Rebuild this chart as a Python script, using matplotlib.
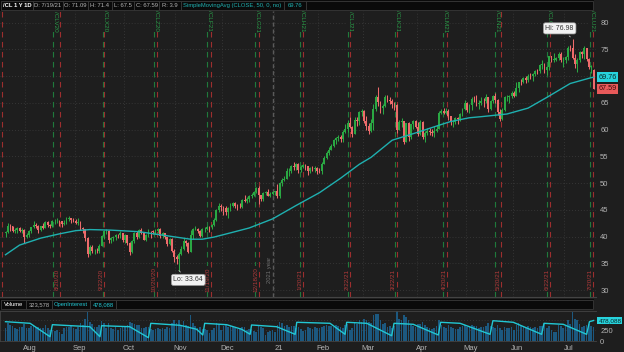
import matplotlib
matplotlib.use('Agg')
import matplotlib.pyplot as plt
from matplotlib.patches import Rectangle
import numpy as np

# /CL 1 Y 1D  -- daily bars 7/20/20 .. 7/19/21 (one row per month)
opens = [
    40.59, 40.81, 41.96, 41.90, 41.07, 41.29, 41.60, 41.04, 41.27, 39.92,
    40.27, 41.01, 41.70, 42.19, 41.95, 41.22, 41.94, 41.61, 42.67, 42.24, 42.01, 42.89, 42.89, 42.93, 42.82, 42.34, 42.62, 43.35, 43.39, 43.04, 42.97,
    42.61, 42.76, 41.51, 41.37, 39.77, 36.76, 38.05, 37.30, 37.33, 37.26, 38.28, 40.16, 40.97, 41.11, 39.31, 39.80, 39.93, 40.31, 40.25, 40.60, 39.29,
    40.22, 38.72, 37.05, 39.22, 40.67, 39.95, 41.19, 40.60, 39.43, 40.20, 41.04, 40.96, 40.88, 41.06, 41.46, 40.03, 40.64, 39.85, 38.56, 39.57, 37.39, 36.17,
    35.79, 36.81, 37.66, 39.15, 38.79, 37.14, 40.29, 41.36, 41.45, 41.12, 40.13, 41.34, 41.43, 41.82, 41.74, 42.15, 43.06, 44.91, 45.71, 45.53,
    45.34, 44.55, 45.28, 45.64, 46.26, 45.76, 45.60, 45.52, 46.78, 46.57, 46.99, 47.62, 47.82, 48.36, 49.10, 47.74, 47.02, 48.12, 48.23, 47.62, 48.00, 48.40,
    48.52, 47.62, 49.93, 50.63, 50.83, 52.24, 52.25, 53.21, 52.91, 53.57, 52.36, 52.98, 53.31, 53.13, 52.27, 52.77, 52.61, 52.85, 52.34,
    52.20, 53.55, 54.76, 55.69, 56.23, 56.85, 57.97, 58.36, 58.68, 58.24, 59.47, 60.05, 61.14, 60.52, 59.24, 61.70, 61.67, 63.22, 63.53,
    61.50, 60.64, 59.75, 61.28, 63.83, 66.09, 65.05, 64.01, 64.44, 66.02, 65.61, 65.39, 64.80, 64.60, 60.00, 61.42, 61.55, 57.76, 61.18, 58.56, 60.97, 61.56, 60.55,
    59.16, 61.45, 58.65, 59.33, 59.77, 59.60, 59.32, 59.70, 60.18, 63.15, 63.46, 63.13, 63.38, 62.44, 61.35, 61.43, 62.14, 61.91, 62.94, 63.86, 65.01,
    63.58, 64.49, 65.69, 65.63, 64.71, 64.90, 65.32, 65.28, 66.08, 63.82, 65.37, 66.27, 65.49, 63.36, 62.05, 63.58, 66.05, 66.07, 66.21, 66.85,
    66.32, 67.72, 68.83, 68.81, 69.62, 69.23, 70.05, 69.96, 70.29, 70.91, 70.88, 72.12, 72.15, 71.04, 71.64, 73.66, 73.06, 73.08, 73.30, 74.05, 72.91, 72.98,
    73.47, 75.23, 75.16, 73.37, 72.20, 72.94, 74.56, 74.10, 75.25, 73.13, 71.65, 71.09,
]
highs = [
    40.97, 42.51, 42.29, 42.05, 41.60, 41.81, 41.78, 41.64, 41.45, 40.65,
    41.30, 41.83, 42.82, 42.60, 42.09, 42.03, 42.44, 42.94, 42.96, 42.30, 43.00, 43.22, 43.46, 43.12, 42.85, 43.04, 43.62, 43.78, 43.54, 43.50, 43.20,
    43.43, 42.83, 41.82, 41.44, 39.83, 38.50, 38.42, 37.71, 37.90, 38.68, 40.27, 41.19, 41.47, 41.15, 39.92, 40.14, 40.55, 40.51, 40.95, 40.73, 40.43,
    40.27, 39.02, 39.38, 40.78, 40.95, 41.39, 41.60, 40.81, 40.49, 41.37, 41.12, 41.22, 41.41, 41.64, 41.58, 40.92, 40.71, 39.96, 39.80, 39.67, 37.64, 36.48,
    37.07, 38.29, 39.77, 39.44, 38.95, 41.26, 41.61, 42.01, 41.66, 41.20, 41.57, 41.76, 42.05, 41.98, 42.40, 43.44, 45.20, 46.26, 46.11, 45.63,
    45.74, 45.47, 46.19, 46.54, 46.46, 46.08, 46.27, 47.05, 47.70, 47.42, 47.76, 48.18, 48.59, 49.28, 49.43, 47.84, 48.40, 48.58, 48.96, 48.38, 48.54, 48.58,
    49.83, 50.20, 50.94, 51.28, 52.75, 52.75, 53.42, 53.93, 53.77, 53.69, 53.29, 53.55, 53.48, 53.17, 53.03, 53.17, 53.19, 53.07, 52.88,
    53.87, 55.04, 55.95, 56.65, 57.29, 58.14, 58.62, 58.91, 58.90, 59.82, 60.95, 61.73, 62.26, 60.69, 62.27, 62.35, 63.40, 63.81, 63.68,
    62.47, 61.13, 61.99, 64.86, 66.40, 67.98, 65.40, 64.78, 66.40, 66.40, 66.12, 65.69, 65.08, 64.74, 61.78, 62.22, 61.58, 61.28, 61.35, 61.00, 61.69, 61.85, 61.40,
    61.75, 61.55, 59.65, 60.23, 60.30, 60.18, 60.63, 60.77, 63.46, 63.82, 63.93, 64.05, 63.87, 62.59, 61.77, 62.30, 62.27, 63.16, 64.02, 65.47, 65.11,
    64.75, 66.04, 66.34, 66.46, 65.45, 66.15, 65.80, 66.69, 66.17, 65.61, 66.48, 66.81, 65.66, 63.89, 64.09, 66.23, 66.38, 66.37, 67.23, 67.12,
    68.87, 68.92, 69.40, 69.76, 70.00, 70.37, 70.62, 70.48, 71.04, 71.29, 72.30, 72.99, 72.34, 71.92, 73.79, 73.81, 74.25, 73.58, 74.45, 74.42, 73.61, 73.73,
    75.70, 75.80, 76.98, 74.11, 73.31, 74.67, 74.76, 75.52, 75.25, 73.30, 72.04, 71.40,
]
lows = [
    39.92, 40.60, 41.07, 40.80, 40.73, 40.70, 40.80, 40.73, 38.72, 39.67,
    39.98, 40.60, 41.60, 41.66, 40.71, 41.03, 41.33, 41.53, 41.79, 41.62, 41.87, 42.38, 42.45, 42.04, 41.85, 42.18, 42.29, 42.88, 42.55, 42.80, 42.34,
    42.12, 41.14, 40.71, 39.16, 36.13, 36.60, 36.95, 36.82, 36.88, 36.93, 38.16, 39.60, 40.51, 38.76, 38.86, 39.08, 39.30, 39.80, 39.69, 38.99, 38.75,
    38.50, 36.63, 36.85, 38.74, 39.56, 39.80, 40.46, 39.26, 39.11, 39.88, 39.64, 40.51, 40.56, 40.64, 39.78, 39.81, 39.48, 38.16, 38.47, 37.02, 35.23, 34.92,
    33.64, 36.57, 37.40, 38.26, 36.99, 37.08, 39.54, 41.20, 40.68, 39.85, 39.97, 40.76, 41.24, 40.79, 41.38, 41.98, 42.89, 44.57, 44.81, 44.11,
    43.94, 43.52, 44.79, 45.55, 45.39, 45.01, 45.27, 45.38, 46.38, 46.20, 46.51, 47.27, 47.62, 48.05, 46.16, 46.70, 46.70, 47.81, 47.50, 47.37, 47.69, 47.76,
    47.18, 47.26, 49.48, 50.41, 50.81, 51.33, 51.87, 52.51, 52.47, 51.95, 52.02, 52.76, 52.50, 51.44, 51.89, 52.18, 52.15, 51.76, 51.84,
    51.71, 53.51, 54.52, 55.22, 56.17, 56.73, 57.35, 57.84, 57.65, 57.67, 59.35, 59.60, 60.33, 58.60, 59.13, 60.64, 60.79, 62.44, 61.16,
    59.92, 59.12, 59.56, 59.93, 63.55, 64.35, 63.14, 62.97, 64.23, 65.05, 64.70, 64.08, 63.70, 59.30, 59.91, 60.56, 57.32, 57.67, 57.94, 58.22, 60.10, 60.35, 58.86,
    59.00, 58.18, 57.63, 58.91, 58.92, 58.83, 58.68, 59.56, 60.10, 62.81, 62.86, 62.89, 61.86, 60.76, 60.50, 60.98, 61.06, 61.59, 62.55, 63.60, 63.26,
    63.05, 63.66, 65.14, 64.39, 63.90, 64.55, 64.13, 64.99, 63.22, 63.60, 64.88, 65.02, 62.78, 61.56, 61.83, 63.48, 65.26, 65.02, 65.96, 66.03,
    66.23, 67.05, 68.36, 68.65, 68.68, 68.80, 69.46, 69.16, 69.98, 70.40, 70.50, 71.24, 70.63, 70.13, 71.14, 72.58, 72.67, 72.72, 73.03, 72.64, 71.68, 72.50,
    72.94, 74.71, 73.12, 71.57, 70.76, 72.57, 73.40, 73.16, 72.79, 71.22, 70.64, 67.50,
]
closes = [
    40.81, 41.96, 41.90, 41.07, 41.29, 41.60, 41.04, 41.27, 39.92, 40.27,
    41.01, 41.70, 42.19, 41.95, 41.22, 41.94, 41.61, 42.67, 42.24, 42.01, 42.89, 42.89, 42.93, 42.82, 42.34, 42.62, 43.35, 43.39, 43.04, 42.97, 42.61,
    42.76, 41.51, 41.37, 39.77, 36.76, 38.05, 37.30, 37.33, 37.26, 38.28, 40.16, 40.97, 41.11, 39.31, 39.80, 39.93, 40.31, 40.25, 40.60, 39.29, 40.22,
    38.72, 37.05, 39.22, 40.67, 39.95, 41.19, 40.60, 39.43, 40.20, 41.04, 40.96, 40.88, 41.06, 41.46, 40.03, 40.64, 39.85, 38.56, 39.57, 37.39, 36.17, 35.79,
    36.81, 37.66, 39.15, 38.79, 37.14, 40.29, 41.36, 41.45, 41.12, 40.13, 41.34, 41.43, 41.82, 41.74, 42.15, 43.06, 44.91, 45.71, 45.53, 45.34,
    44.55, 45.28, 45.64, 46.26, 45.76, 45.60, 45.52, 46.78, 46.57, 46.99, 47.62, 47.82, 48.36, 49.10, 47.74, 47.02, 48.12, 48.23, 47.62, 48.00, 48.40, 48.52,
    47.62, 49.93, 50.63, 50.83, 52.24, 52.25, 53.21, 52.91, 53.57, 52.36, 52.98, 53.31, 53.13, 52.27, 52.77, 52.61, 52.85, 52.34, 52.20,
    53.55, 54.76, 55.69, 56.23, 56.85, 57.97, 58.36, 58.68, 58.24, 59.47, 60.05, 61.14, 60.52, 59.24, 61.70, 61.67, 63.22, 63.53, 61.50,
    60.64, 59.75, 61.28, 63.83, 66.09, 65.05, 64.01, 64.44, 66.02, 65.61, 65.39, 64.80, 64.60, 60.00, 61.42, 61.55, 57.76, 61.18, 58.56, 60.97, 61.56, 60.55, 59.16,
    61.45, 58.65, 59.33, 59.77, 59.60, 59.32, 59.70, 60.18, 63.15, 63.46, 63.13, 63.38, 62.44, 61.35, 61.43, 62.14, 61.91, 62.94, 63.86, 65.01, 63.58,
    64.49, 65.69, 65.63, 64.71, 64.90, 65.32, 65.28, 66.08, 63.82, 65.37, 66.27, 65.49, 63.36, 62.05, 63.58, 66.05, 66.07, 66.21, 66.85, 66.32,
    67.72, 68.83, 68.81, 69.62, 69.23, 70.05, 69.96, 70.29, 70.91, 70.88, 72.12, 72.15, 71.04, 71.64, 73.66, 73.06, 73.08, 73.30, 74.05, 72.91, 72.98, 73.47,
    75.23, 75.16, 73.37, 72.20, 72.94, 74.56, 74.10, 75.25, 73.13, 71.65, 71.81, 67.59,
]
# volume and open interest, thousands of contracts
volume_k = [
    310, 420, 380, 350, 300, 290, 330, 320, 390, 300,
    300, 340, 380, 330, 320, 300, 310, 380, 300, 260, 250, 240, 260, 210, 170, 300, 330, 320, 350, 300, 280,
    330, 420, 380, 520, 680, 450, 400, 330, 320, 380, 470, 430, 300, 420, 300, 280, 320, 260, 310, 350, 330,
    380, 450, 420, 400, 380, 370, 300, 310, 330, 330, 290, 250, 280, 300, 290, 300, 270, 330, 300, 420, 480, 430,
    500, 380, 460, 380, 360, 600, 430, 350, 310, 330, 280, 270, 250, 190, 250, 300, 410, 400, 250, 350,
    380, 330, 350, 320, 300, 280, 310, 330, 320, 260, 290, 270, 240, 220, 380, 320, 300, 150, 200, 240, 260, 200,
    380, 450, 430, 350, 380, 330, 350, 340, 300, 330, 290, 240, 250, 320, 300, 280, 320, 300, 310,
    330, 360, 380, 340, 350, 330, 380, 360, 320, 310, 370, 400, 250, 300, 420, 400, 480, 450, 520,
    480, 450, 420, 600, 620, 640, 480, 400, 410, 330, 350, 300, 350, 690, 520, 480, 600, 550, 480, 380, 350, 330, 400,
    400, 450, 370, 330, 300, 280, 300, 340, 480, 380, 320, 300, 380, 330, 300, 290, 280, 320, 340, 380, 330,
    350, 380, 360, 350, 300, 330, 320, 360, 420, 360, 330, 300, 380, 310, 250, 330, 300, 310, 330, 250,
    380, 420, 360, 330, 300, 340, 320, 310, 330, 300, 360, 340, 400, 300, 350, 250, 220, 200, 380, 360, 300, 350,
    480, 400, 680, 520, 480, 400, 320, 350, 380, 400, 350, 324,
]
oi_day = [0, 10.5, 19, 20, 36, 40.3, 41, 53, 61, 62, 74.5, 81.6, 84.2, 85, 94.4, 100.8, 104.4, 105,
          115.7, 123.6, 124.3, 138.5, 144.9, 145.6, 154.2, 164.8, 165.8, 174, 184.7, 185.7, 194,
          206.8, 208, 216.7, 228.8, 229.8, 238, 248, 249.2, 251]
oi_k = [450, 412, 100, 380, 333, 100, 356, 333, 77, 412, 366, 273, 140, 412, 380, 273, 156, 373,
        333, 156, 436, 412, 156, 436, 412, 123, 412, 389, 140, 436, 412,
        156, 473, 436, 156, 412, 389, 156, 450, 478]
# SimpleMovingAvg(CLOSE, 50)
sma_day = [0, 6, 15, 23, 30, 36, 45, 57, 68, 79, 84, 89, 97, 104, 114, 124, 134, 143, 151, 156,
           165, 176, 185, 190, 198, 203, 214, 223, 231, 241, 250, 251]
sma = [36.6, 38.4, 39.7, 40.5, 41.1, 41.3, 41.2, 40.9, 40.2, 39.5, 39.5, 39.9, 40.8, 41.6, 43.3,
       45.8, 48.2, 50.9, 53.5, 54.8, 58.0, 59.5, 60.8, 61.5, 62.2, 62.4, 62.9, 64.0, 66.0, 68.6,
       69.7, 69.76]

month_labels = ['Aug', 'Sep', 'Oct', 'Nov', 'Dec', '21', 'Feb', 'Mar', 'Apr', 'May', 'Jun', 'Jul']
month_day = [10, 31, 52, 74, 94, 116, 135, 154, 177, 198, 218, 240]
price_ticks = [30, 35, 40, 45, 50, 55, 60, 65, 70, 75, 80]
price_tick_labels = ['30', '35', '40', '45', '50', '55', '60', '65', '', '75', '80']
roll_day = [20.3, 41.6, 63.4, 86, 106.5, 125.7, 146.2, 166.2, 186.7, 208.9, 231.1, 249.5]
roll_labels = ['/CLV20', '/CLX20', '/CLZ20', '/CLF21', '/CLG21', '/CLH21', '/CLJ21', '/CLK21',
               '/CLM21', '/CLN21', '/CLQ21', '/CLU21']
expiry_day = [-1.5, 23.3, 42, 64.5, 87.7, 108, 127, 147, 167, 188.5, 211.5, 232.4, 250.7]
expiry_labels = ['', '8/20/20', '9/22/20', '10/20/20', '11/19/20', '12/18/20', '1/20/21',
                 '2/22/21', '3/22/21', '4/20/21', '5/20/21', '6/22/21', '7/20/21']

BG = '#1e1e1e'
BLACK = '#0a0a0a'
UP = '#2aa843'
DOWN = '#ee6b6b'
SMA_C = '#1fb0b0'
CYAN = '#22c7d3'
GRID = '#3d3d3d'
TXT = '#b4b4b4'
HDR_SIZE = 4.2

plt.rcParams['font.family'] = ['Liberation Sans', 'DejaVu Sans']

W, H = 624, 352
fig = plt.figure(figsize=(W / 100, H / 100), dpi=100, facecolor=BG)

def box(px0, py0, px1, py1):
    return [px0 / W, 1 - py1 / H, (px1 - px0) / W, (py1 - py0) / H]

day = np.arange(len(closes))
o = np.array(opens); h = np.array(highs); l = np.array(lows); c = np.array(closes)
col = np.where(c >= o, UP, DOWN)

# ---- price panel
ax = fig.add_axes(box(0, 11, 596, 297), facecolor=BG)
ax.set_xlim(-2.35, 252.0)
ax.set_ylim(28.7, 82.15)
for v in price_ticks:
    ax.axhline(v, color=GRID, lw=0.6, ls=(0, (1, 2.5)), zorder=0)
for d in month_day:
    ax.axvline(d - 1.5, color=GRID, lw=0.6, ls=(0, (1, 2.5)), zorder=0)
ax.axvline(114.2, color='#5a5a5a', lw=1.0, ls=(0, (3, 2)), zorder=0)
ax.text(112.6, 33.8, '2021 year', rotation=90, fontsize=4.2, color='#707070', ha='center', va='center')

for d, lab in zip(roll_day, roll_labels):
    ax.axvline(d, color='#1f7a3c', lw=0.8, ls=(0, (5, 4)), zorder=1)
    ax.text(d + 1.0, 80.3, lab, rotation=270, fontsize=4.6, color='#2a9a48', ha='center', va='center',
            bbox=dict(boxstyle='square,pad=0.1', fc=BG, ec='none'), zorder=2)
for d, lab in zip(expiry_day, expiry_labels):
    ax.axvline(d, color='#9c2e2e', lw=0.8, ls=(0, (5, 4)), zorder=1)
    if lab:
        ax.text(d - 1.3, 32.0, lab, rotation=90, fontsize=4.6, color='#b03a3a', ha='center', va='center',
                bbox=dict(boxstyle='square,pad=0.1', fc=BG, ec='none'), zorder=2)

ax.vlines(day, l, h, colors=col, lw=0.75, zorder=3)
ax.bar(day, np.maximum(np.abs(c - o), 0.06), bottom=np.minimum(o, c), width=0.78, color=col,
       lw=0, zorder=4)
ax.plot(sma_day, sma, color=SMA_C, lw=1.0, zorder=5)

for lab, xy, xyt in [('Hi: 76.98', (242, 76.98), (236.5, 78.9)), ('Lo: 33.64', (74, 33.64), (78, 31.9))]:
    ax.annotate(lab, xy=xy, xytext=xyt, fontsize=5, color='#333333', ha='center', va='center', zorder=6,
                bbox=dict(boxstyle='round,pad=0.3', fc='#f2f2f2', ec='#999999', lw=0.5),
                arrowprops=dict(arrowstyle='-', color='#bbbbbb', lw=0.6))

ax.yaxis.tick_right()
ax.set_yticks(price_ticks)
ax.set_yticklabels(price_tick_labels)
ax.tick_params(axis='y', length=0, pad=3, labelsize=5.5, colors=TXT)
ax.set_xticks([])
for s in ax.spines.values():
    s.set_visible(False)
ax.spines['bottom'].set_visible(True)
ax.spines['bottom'].set_color('#444444')
ax.spines['bottom'].set_linewidth(0.8)

yt = ax.get_yaxis_transform()
ax.text(1.004, sma[-1], '69.76', transform=yt, fontsize=5.2, color='#0a2a2a', va='center', ha='left',
        bbox=dict(boxstyle='square,pad=0.2', fc='#27d3dd', ec='none'), zorder=7)
ax.text(1.004, closes[-1], '67.59', transform=yt, fontsize=5.2, color='#3a0a0a', va='center', ha='left',
        bbox=dict(boxstyle='square,pad=0.2', fc='#e85a5a', ec='none'), zorder=7)

# ---- volume / open interest panel
vx = fig.add_axes(box(0, 311, 596, 341), facecolor=BG)
vx.set_xlim(-2.35, 252.0)
vx.set_ylim(0, 699)
vx.axhline(250, color=GRID, lw=0.6, ls=(0, (1, 2.5)), zorder=0)
vx.axhline(500, color=GRID, lw=0.6, ls=(0, (1, 2.5)), zorder=0)
vx.bar(day, volume_k, width=0.7, color='#1c587f', lw=0, zorder=2)
vx.plot(oi_day, oi_k, color=CYAN, lw=1.0, zorder=3)
vx.yaxis.tick_right()
vx.set_yticks([0, 250])
vx.tick_params(axis='y', length=0, pad=3, labelsize=5.5, colors=TXT)
vx.set_xticks([d + 0.5 for d in month_day])
vx.set_xticklabels(month_labels)
vx.tick_params(axis='x', length=0, pad=3, labelsize=5.5, colors=TXT)
for s in vx.spines.values():
    s.set_color('#444444')
    s.set_linewidth(0.6)
vx.spines['right'].set_visible(False)
vyt = vx.get_yaxis_transform()
vx.text(1.004, oi_k[-1], '478,088', transform=vyt, fontsize=4.6, color='#0a2a2a', va='center', ha='left',
        bbox=dict(boxstyle='square,pad=0.15', fc='#27d3dd', ec='none'), zorder=7)

# ---- header strips
def strip(py0, py1, items):
    sx = fig.add_axes(box(0, py0, 594, py1))
    sx.set_xlim(0, 594)
    sx.set_ylim(py1 - py0, 0)
    sx.axis('off')
    sx.add_patch(Rectangle((0, 0), 594, py1 - py0, fc=BLACK, ec='none'))
    for x0, x1, txt, color, weight in items:
        sx.add_patch(Rectangle((x0, 0.8), x1 - x0, py1 - py0 - 1.6, fc=BLACK, ec='#3a3a3a', lw=0.6))
        if txt:
            sx.text((x0 + x1) / 2, (py1 - py0) / 2 + 0.3, txt, color=color, ha='center', va='center',
                    fontsize=HDR_SIZE, fontweight=weight, clip_on=False)

strip(0, 11, [
    (1, 33, '/CL 1 Y 1D', 'white', 'bold'),
    (33, 63, 'D: 7/19/21', TXT, 'normal'),
    (63, 88, 'O: 71.09', TXT, 'normal'),
    (88, 112, 'H: 71.4', TXT, 'normal'),
    (112, 134, 'L: 67.5', TXT, 'normal'),
    (134, 159, 'C: 67.59', TXT, 'normal'),
    (159, 181, 'R: 3.9', TXT, 'normal'),
    (181, 284, 'SimpleMovingAvg (CLOSE, 50, 0, no)', SMA_C, 'normal'),
    (284, 306, '69.76', SMA_C, 'normal'),
    (306, 593, '', TXT, 'normal'),
])
strip(299, 310, [
    (1, 26, 'Volume', 'white', 'normal'),
    (26, 52, '323,578', TXT, 'normal'),
    (52, 90, 'OpenInterest', CYAN, 'normal'),
    (90, 116, '478,088', CYAN, 'normal'),
    (116, 593, '', TXT, 'normal'),
])

fig.savefig('out.png', dpi=100, facecolor=BG)
